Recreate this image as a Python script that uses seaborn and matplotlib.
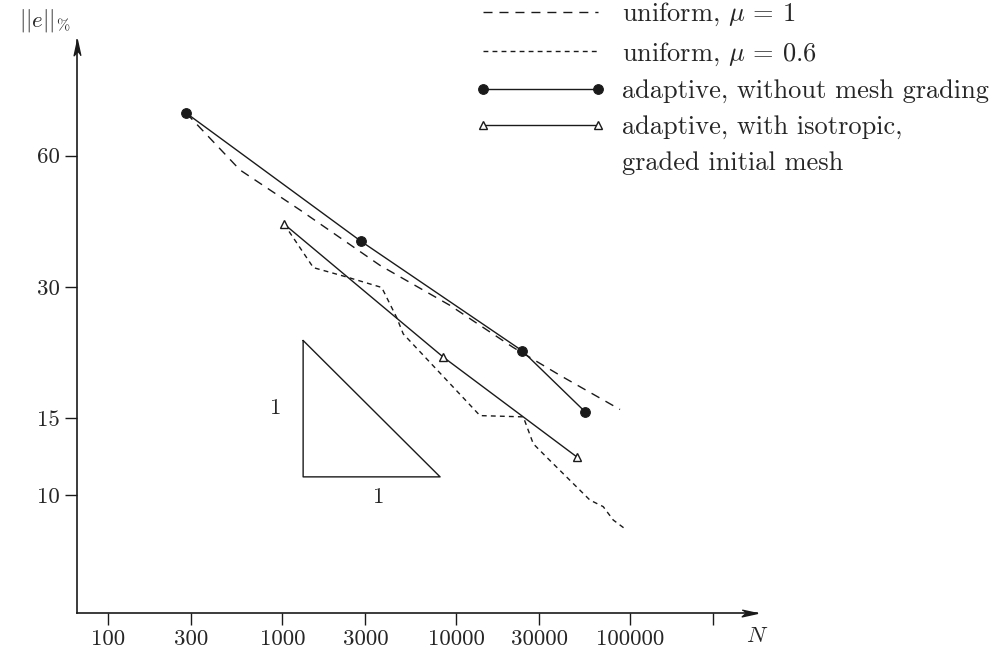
import numpy as np
import matplotlib.pyplot as plt
from matplotlib.lines import Line2D
import pandas as pd
import seaborn as sns

# values: N = number of unknowns, e = error in %
n_unif1 = [280, 571, 1265, 3643, 9200, 21180, 39450, 87300]
e_unif1 = [75.1, 55.6, 45.0, 33.6, 27.2, 21.8, 18.8, 15.7]

n_unif06 = [1023, 1508, 2344, 3726, 4545, 4955, 13680, 24270, 27700, 33070,
            58650, 69900, 79800, 95300]
e_unif06 = [41.8, 33.2, 31.6, 29.9, 25.5, 23.4, 15.2, 15.1, 13.1, 12.2,
            9.73, 9.40, 8.76, 8.31]

n_adapt = [280, 2822, 23940, 55100]
e_adapt = [75.1, 38.2, 21.4, 15.5]

n_graded = [1023, 8417, 49600]
e_graded = [41.8, 20.7, 12.2]

# slope triangle
n_tri = [1317, 1317, 8070, 1317]
e_tri = [22.6, 11.0, 11.0, 22.6]

x_ticks = [100, 300, 1000, 3000, 10000, 30000, 100000, 300000]
x_labels = ["100", "300", "1000", "3000", "10000", "30000", "100000", ""]
y_ticks = [10, 15, 30, 60]

sns.set_theme(style="white")
plt.rcParams["font.family"] = ["cmr10", "DejaVu Serif"]
plt.rcParams["mathtext.fontset"] = "cm"
plt.rcParams["axes.formatter.use_mathtext"] = True
fs = 16.5
fs_leg = 19

fig = plt.figure(figsize=(9.94, 6.55), dpi=100)
ax = fig.add_axes([0.0772, 0.0646, 0.684, 0.874])

sns.lineplot(x=n_unif1, y=e_unif1, ax=ax, color="k", lw=1, estimator=None, sort=False,
             linestyle=(0, (6.5, 5)), label="uniform, $\\mu$ = 1")
sns.lineplot(x=n_unif06, y=e_unif06, ax=ax, color="k", lw=1, estimator=None, sort=False,
             linestyle=(0, (3.5, 3)), label="uniform, $\\mu$ = 0.6")
sns.lineplot(x=n_adapt, y=e_adapt, ax=ax, color="k", lw=1, estimator=None, sort=False,
             marker="o", markersize=7, markerfacecolor="k", markeredgecolor="k",
             label="adaptive, without mesh grading")
sns.lineplot(x=n_graded, y=e_graded, ax=ax, color="k", lw=1, estimator=None, sort=False,
             marker="^", markersize=6, markerfacecolor="white", markeredgecolor="k",
             markeredgewidth=1, label="adaptive, with isotropic,")
sns.lineplot(x=n_tri, y=e_tri, ax=ax, color="k", lw=1, estimator=None, sort=False)

ax.text(920, 15.8, "1", fontsize=fs, ha="center", va="center")
ax.text(3594, 9.89, "1", fontsize=fs, ha="center", va="center")

ax.set_xscale("log")
ax.set_yscale("log")
ax.set_xlim(65.8, 532600)
ax.set_ylim(5.37, 110.3)
ax.set_xticks(x_ticks)
ax.set_xticklabels(x_labels, fontsize=fs)
ax.set_yticks(y_ticks)
ax.set_yticklabels([str(v) for v in y_ticks], fontsize=fs)
ax.minorticks_off()
ax.tick_params(axis="both", direction="out", length=8.4, width=1, color="k", pad=4,
               bottom=True, left=True)

for s in ["top", "right"]:
    ax.spines[s].set_visible(False)
for s in ["left", "bottom"]:
    ax.spines[s].set_color("k")
    ax.spines[s].set_linewidth(1.2)

# arrow heads on the axes
ax.plot(1, 0, marker=[(-1, 0.22), (0, 0), (-1, -0.22), (-0.75, 0)], ms=22, color="k",
        transform=ax.transAxes, clip_on=False)
ax.plot(0, 1, marker=[(0.22, -1), (0, 0), (-0.22, -1), (0, -0.75)], ms=22, color="k",
        transform=ax.transAxes, clip_on=False)

ax.text(-0.0466, 1.035, "$||e||_{\\%}$", transform=ax.transAxes, fontsize=fs,
        ha="center", va="center")
ax.text(1.0004, -0.0407, "$N$", transform=ax.transAxes, fontsize=fs,
        ha="center", va="center")

handles, labels = ax.get_legend_handles_labels()
ax.get_legend().remove()
handles.append(Line2D([], [], linestyle="none"))
labels.append("graded initial mesh")
fig.legend(handles, labels, loc="upper left", bbox_to_anchor=(475 / 994, 1 - 1 / 655),
           frameon=False, borderpad=0, borderaxespad=0, handlelength=4.96,
           handletextpad=0.61, labelspacing=0.45, fontsize=fs_leg, numpoints=2)

plt.savefig("out.png", dpi=100)
